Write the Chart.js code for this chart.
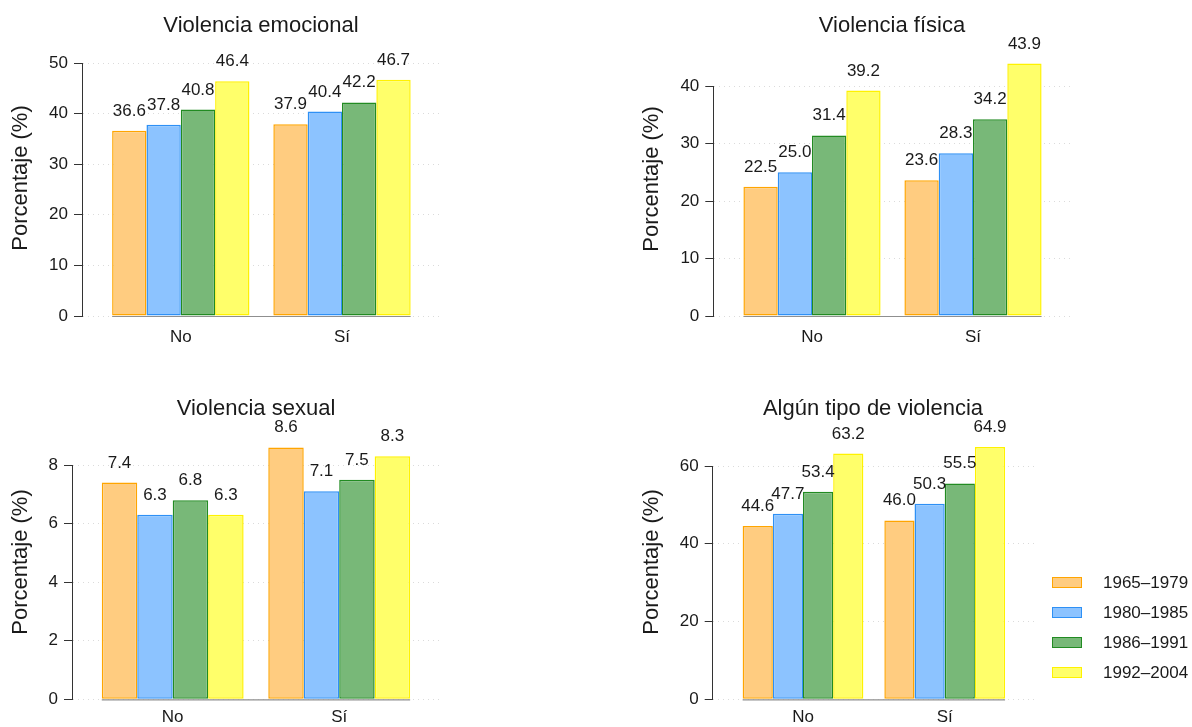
<!DOCTYPE html>
<html>
<head>
<meta charset="utf-8">
<script src="https://cdn.jsdelivr.net/npm/chart.js@4.4.1/dist/chart.umd.min.js"></script>
<style>
  html, body { margin:0; padding:0; background:#fff; width:1192px; height:727px; overflow:hidden;
    font-family:'Liberation Sans', Arial, sans-serif; }
  canvas { position:absolute; left:0; top:0; }
  .lg { position:absolute; left:1052px; height:12px; }
  .lg .box { position:absolute; left:0; top:0; width:28px; height:9px; border:1.5px solid; }
  .lg .txt { position:absolute; left:51px; top:-4px; font-size:17px; line-height:20px; color:#1a1a1a; white-space:nowrap; }
</style>
</head>
<body>
<canvas id="c1" width="1192" height="727"></canvas>
<canvas id="c2" width="1192" height="727"></canvas>
<canvas id="c3" width="1192" height="727"></canvas>
<canvas id="c4" width="1192" height="727"></canvas>
<div id="legend"></div>
<script>
// ---------------- DATA ----------------
const categories = ['No', 'Sí'];
const seriesLabels = ['1965–1979', '1980–1985', '1986–1991', '1992–2004'];

// values per series (rows) for categories [No, Sí]
const emocionalValues = [[36.6, 37.9], [37.8, 40.4], [40.8, 42.2], [46.4, 46.7]];
const fisicaValues    = [[22.5, 23.6], [25.0, 28.3], [31.4, 34.2], [39.2, 43.9]];
const sexualValues    = [[7.4, 8.6],   [6.3, 7.1],   [6.8, 7.5],   [6.3, 8.3]];
const algunValues     = [[44.6, 46.0], [47.7, 50.3], [53.4, 55.5], [63.2, 64.9]];

const emocionalTicks = [0, 10, 20, 30, 40, 50];
const fisicaTicks    = [0, 10, 20, 30, 40];
const sexualTicks    = [0, 2, 4, 6, 8];
const algunTicks     = [0, 20, 40, 60];

const panelTitles = ['Violencia emocional', 'Violencia física', 'Violencia sexual', 'Algún tipo de violencia'];
const yAxisTitle = 'Porcentaje (%)';

// ---------------- STYLE ----------------
const fills   = ['#FFCC80', '#8CC3FF', '#78B878', '#FFFF6A'];
const borders = ['#FFA500', '#2E90F5', '#228B22', '#FFF200'];
const FONT = "'Liberation Sans', Arial, sans-serif";
const TXT = '#1a1a1a';

// layout (pixel positions of each panel)
const layouts = [
  { axisX: 82,    c1: 180.8, c2: 342.0, top: 63,  bottom: 316,   ytx: 21,  ytc: 178, tx: 261, ty: 26,  xpad: 11 },
  { axisX: 713.3, c1: 812.0, c2: 973.0, top: 86,  bottom: 316,   ytx: 652, ytc: 179, tx: 892, ty: 26,  xpad: 11 },
  { axisX: 72,    c1: 172.7, c2: 339.2, top: 465, bottom: 699.3, ytx: 21,  ytc: 562, tx: 256, ty: 409, xpad: 8 },
  { axisX: 712.7, c1: 803.0, c2: 944.7, top: 466, bottom: 699.3, ytx: 652, ytc: 562, tx: 873, ty: 409, xpad: 8 }
];

const textPlugin = {
  id: 'textPlugin',
  afterDatasetsDraw(chart) {
    const ctx = chart.ctx;
    const p = chart.options.plugins.textPlugin;
    ctx.save();
    // value labels
    ctx.font = '17px ' + FONT;
    ctx.fillStyle = TXT;
    ctx.textAlign = 'center';
    ctx.textBaseline = 'alphabetic';
    chart.data.datasets.forEach((ds, i) => {
      const meta = chart.getDatasetMeta(i);
      meta.data.forEach((el, j) => {
        ctx.fillText(ds.data[j].y.toFixed(1), el.x, el.y - 15);
      });
    });
    // baseline under bars
    const m0 = chart.getDatasetMeta(0).data[0];
    const nds = chart.data.datasets.length;
    const mL = chart.getDatasetMeta(nds - 1).data;
    const last = mL[mL.length - 1];
    const y0 = chart.scales.y.getPixelForValue(0);
    ctx.strokeStyle = '#8f8f8f';
    ctx.lineWidth = 1.2;
    ctx.beginPath();
    ctx.moveTo(m0.x - m0.width / 2, y0 + 0.5);
    ctx.lineTo(last.x + last.width / 2, y0 + 0.5);
    ctx.stroke();
    // panel title
    ctx.font = '22px ' + FONT;
    ctx.textBaseline = 'middle';
    ctx.fillText(p.title, p.tx, p.ty);
    // y-axis title
    ctx.translate(p.ytx, p.ytc);
    ctx.rotate(-Math.PI / 2);
    ctx.fillText(yAxisTitle, 0, 0);
    ctx.restore();
  }
};

function makeChart(id, p, values, yTicks, title) {
  const s = p.c2 - p.c1;
  const off = (p.c1 - p.axisX) / s;
  const xmin = 1 - off;
  const xmax = categories.length + off;
  const areaRight = p.axisX + (xmax - xmin) * s;
  const Y_W = 60, X_H = 40;
  return new Chart(document.getElementById(id), {
    type: 'bar',
    data: {
      datasets: seriesLabels.map((lab, i) => ({
        label: lab,
        data: categories.map((c, j) => ({ x: j + 1, y: values[i][j] })),
        backgroundColor: fills[i],
        borderColor: borders[i],
        borderWidth: 1.5,
        borderSkipped: false,
        clip: false,
        categoryPercentage: 0.852,
        barPercentage: 1
      }))
    },
    options: {
      responsive: false,
      animation: false,
      events: [],
      layout: { padding: { left: p.axisX - Y_W, top: p.top, right: 1192 - areaRight, bottom: 727 - p.bottom - X_H } },
      plugins: {
        legend: { display: false },
        tooltip: { enabled: false },
        textPlugin: { title: title, tx: p.tx, ty: p.ty, ytx: p.ytx, ytc: p.ytc }
      },
      scales: {
        x: {
          type: 'linear',
          offset: false,
          min: xmin, max: xmax,
          afterFit(sc) { sc.height = X_H; },
          afterBuildTicks(sc) { sc.ticks = categories.map((c, j) => ({ value: j + 1 })); },
          ticks: {
            callback: (v) => categories[Math.round(v) - 1],
            font: { family: FONT, size: 17 }, color: TXT, padding: p.xpad,
            maxRotation: 0, autoSkip: false
          },
          grid: { display: false, drawTicks: false, offset: false },
          border: { display: false }
        },
        y: {
          min: 0, max: yTicks[yTicks.length - 1],
          afterFit(sc) { sc.width = Y_W; },
          afterBuildTicks(sc) { sc.ticks = yTicks.map(v => ({ value: v })); },
          ticks: { font: { family: FONT, size: 17 }, color: TXT, padding: 6 },
          grid: { color: 'rgba(0,0,0,0.14)', lineWidth: 1, tickColor: '#333', tickLength: 8, tickWidth: 1, tickBorderDash: [] },
          border: { display: true, color: '#333', width: 1, dash: [1, 4] }
        }
      }
    },
    plugins: [textPlugin]
  });
}

makeChart('c1', layouts[0], emocionalValues, emocionalTicks, panelTitles[0]);
makeChart('c2', layouts[1], fisicaValues, fisicaTicks, panelTitles[1]);
makeChart('c3', layouts[2], sexualValues, sexualTicks, panelTitles[2]);
makeChart('c4', layouts[3], algunValues, algunTicks, panelTitles[3]);

// legend
const legendTops = [577, 607, 637, 667];
const lg = document.getElementById('legend');
seriesLabels.forEach((lab, i) => {
  const d = document.createElement('div');
  d.className = 'lg';
  d.style.top = legendTops[i] + 'px';
  d.innerHTML = '<div class="box" style="background:' + fills[i] + ';border-color:' + borders[i] + '"></div><div class="txt">' + lab + '</div>';
  lg.appendChild(d);
});
</script>
</body>
</html>
